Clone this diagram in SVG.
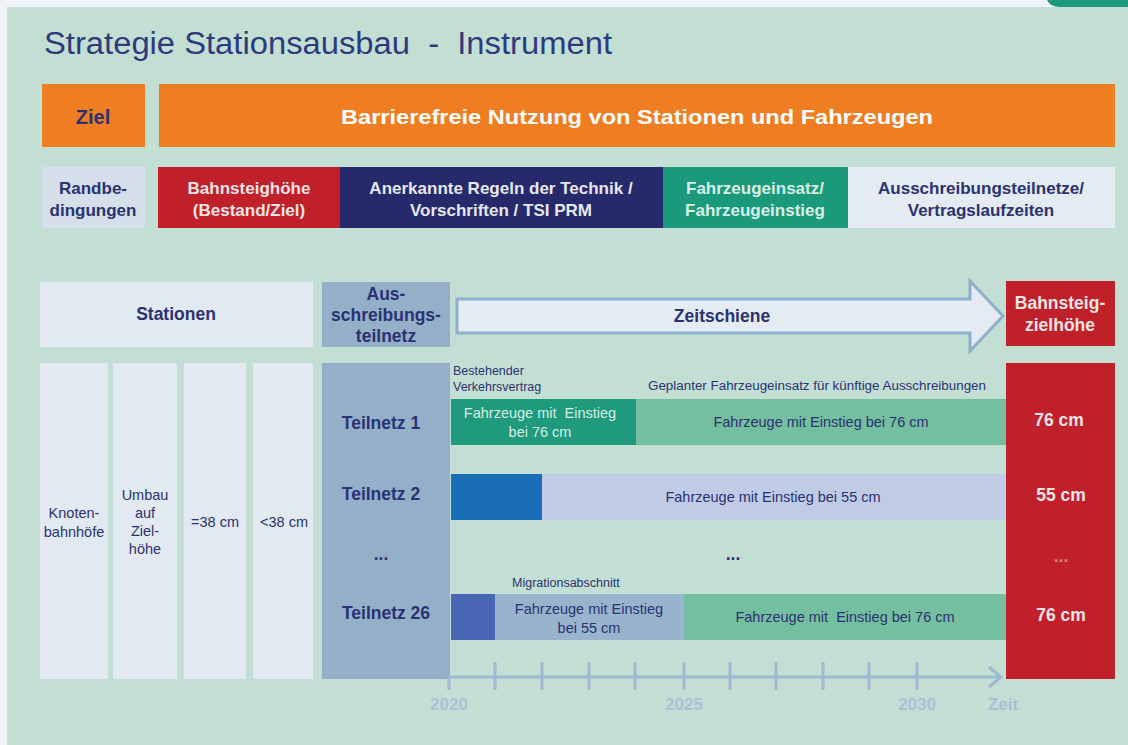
<svg xmlns="http://www.w3.org/2000/svg" width="1128" height="745" viewBox="0 0 1128 745">
<style>
text{font-family:"Liberation Sans",Arial,sans-serif;}
.b{font-weight:bold;}
.nv{fill:#2b3272;}
.lt{fill:#f2e4e4;}
.c{text-anchor:middle;}
.h1{font-size:20px;}
.h2{font-size:17px;}
.h3{font-size:17.5px;}
.sm{font-size:12.5px;}
.md{font-size:14.5px;}
.yr{font-size:17px;font-weight:bold;fill:#a9c1d7;text-anchor:middle;}
.tick{stroke:#9fb9d3;stroke-width:3;fill:none;}
</style>
<rect x="0" y="0" width="1128" height="745" fill="#eef3f6"/>
<rect x="7" y="7" width="1121" height="738" fill="#c3dfd3"/>
<path d="M1047,0 H1128 V7 H1060 Q1050,7 1047,0 Z" fill="#1a9a7a"/>

<g id="title">
<text x="44" y="54" font-size="31" fill="#2e3a7e" xml:space="preserve" textLength="568" lengthAdjust="spacingAndGlyphs">Strategie Stationsausbau  -  Instrument</text>
</g>

<g id="ziel">
<rect x="42" y="84" width="103" height="63" fill="#ef7d22"/>
<text x="93" y="124" class="b nv c h1">Ziel</text>
</g>
<g id="ziel-text">
<rect x="159" y="84" width="956" height="63" fill="#ef7d22"/>
<text x="637" y="124" class="b c h1" fill="#ffffff" textLength="592" lengthAdjust="spacingAndGlyphs">Barrierefreie Nutzung von Stationen und Fahrzeugen</text>
</g>

<g id="randbedingungen">
<rect x="42" y="167" width="103" height="61" fill="#d4dfe9"/>
<text x="93" y="194" class="b nv c h2">Randbe-</text>
<text x="93" y="216" class="b nv c h2">dingungen</text>
</g>
<g id="bahnsteighoehe">
<rect x="158" y="167" width="182" height="61" fill="#c0202a"/>
<text x="249" y="194" class="b lt c h2">Bahnsteighöhe</text>
<text x="249" y="216" class="b lt c h2">(Bestand/Ziel)</text>
</g>
<g id="regeln">
<rect x="340" y="167" width="323" height="61" fill="#262a6b"/>
<text x="501" y="194" class="b c h2" fill="#e6e7f0">Anerkannte Regeln der Technik /</text>
<text x="501" y="216" class="b c h2" fill="#e6e7f0">Vorschriften / TSI PRM</text>
</g>
<g id="fahrzeugeinsatz">
<rect x="663" y="167" width="185" height="61" fill="#1a9a7a"/>
<text x="755" y="194" class="b c h2" fill="#d8efe6">Fahrzeugeinsatz/</text>
<text x="755" y="216" class="b c h2" fill="#d8efe6">Fahrzeugeinstieg</text>
</g>
<g id="ausschreibungsteilnetze">
<rect x="848" y="167" width="267" height="61" fill="#e4ebf3"/>
<text x="981" y="194" class="b nv c h2">Ausschreibungsteilnetze/</text>
<text x="981" y="216" class="b nv c h2">Vertragslaufzeiten</text>
</g>

<g id="stationen">
<rect x="40" y="282" width="273" height="65" fill="#e2e9f1"/>
<text x="176" y="320" class="b nv c h3">Stationen</text>
</g>
<g id="ausschreibungsteilnetz">
<rect x="322" y="282" width="128" height="65" fill="#93b0c8"/>
<text x="386" y="300" class="b nv c h3">Aus-</text>
<text x="386" y="321" class="b nv c h3">schreibungs-</text>
<text x="386" y="342" class="b nv c h3">teilnetz</text>
</g>
<g id="zeitschiene">
<path d="M457,299 H970 V281 L1003,316 L970,351 V333 H457 Z" fill="#e4ebf3" stroke="#8fb0cc" stroke-width="3" stroke-linejoin="miter"/>
<text x="722" y="322" class="b nv c h3">Zeitschiene</text>
</g>
<g id="bahnsteigzielhoehe">
<rect x="1006" y="281" width="109" height="65" fill="#c0202a"/>
<text x="1060" y="309" class="b lt c h3">Bahnsteig-</text>
<text x="1060" y="331" class="b lt c h3">zielhöhe</text>
</g>

<g id="knotenbahnhoefe">
<rect x="40" y="363" width="68" height="316" fill="#e2e9f1"/>
<text x="74" y="518" class="nv c md">Knoten-</text>
<text x="74" y="537" class="nv c md">bahnhöfe</text>
</g>
<g id="umbau">
<rect x="113" y="363" width="64" height="316" fill="#e2e9f1"/>
<text x="145" y="500" class="nv c md">Umbau</text>
<text x="145" y="518" class="nv c md">auf</text>
<text x="145" y="536" class="nv c md">Ziel-</text>
<text x="145" y="554" class="nv c md">höhe</text>
</g>
<g id="eq38">
<rect x="184" y="363" width="62" height="316" fill="#e2e9f1"/>
<text x="215" y="527" class="nv c md">=38 cm</text>
</g>
<g id="lt38">
<rect x="253" y="363" width="60" height="316" fill="#e2e9f1"/>
<text x="284" y="527" class="nv c md">&lt;38 cm</text>
</g>

<g id="teilnetze">
<rect x="322" y="363" width="128" height="316" fill="#93b0c8"/>
<text x="381" y="429" class="b nv c h3">Teilnetz 1</text>
<text x="381" y="500" class="b nv c h3">Teilnetz 2</text>
<text x="381" y="560" class="b nv c h3">...</text>
<text x="386" y="619" class="b nv c h3">Teilnetz 26</text>
</g>

<g id="zielhoehen">
<rect x="1006" y="363" width="109" height="316" fill="#c0202a"/>
<text x="1059" y="426" class="b lt c h3">76 cm</text>
<text x="1061" y="501" class="b lt c h3">55 cm</text>
<text x="1061" y="562" class="b c h3" fill="#d98080">...</text>
<text x="1061" y="621" class="b lt c h3">76 cm</text>
</g>

<g id="labels">
<text x="453" y="375" class="nv sm">Bestehender</text>
<text x="453" y="391" class="nv sm">Verkehrsvertrag</text>
<text x="648" y="390" class="nv sm" textLength="338" lengthAdjust="spacingAndGlyphs">Geplanter Fahrzeugeinsatz für künftige Ausschreibungen</text>
<text x="733" y="560" class="b nv c h3">...</text>
<text x="512" y="587" class="nv sm">Migrationsabschnitt</text>
</g>

<g id="teilnetz1-bar">
<rect x="451" y="399" width="185" height="46" fill="#1f9a7c"/>
<text x="540" y="418" class="c md" fill="#d8efe6" xml:space="preserve">Fahrzeuge mit  Einstieg</text>
<text x="540" y="437" class="c md" fill="#d8efe6">bei 76 cm</text>
<rect x="636" y="399" width="370" height="46" fill="#74bf9f"/>
<text x="821" y="427" class="nv c md">Fahrzeuge mit Einstieg bei 76 cm</text>
</g>

<g id="teilnetz2-bar">
<rect x="451" y="474" width="91" height="46" fill="#1a6eb8"/>
<rect x="542" y="474" width="464" height="46" fill="#c0cbe6"/>
<text x="773" y="502" class="nv c md">Fahrzeuge mit Einstieg bei 55 cm</text>
</g>

<g id="teilnetz26-bar">
<rect x="451" y="594" width="44" height="46" fill="#4a67b5"/>
<rect x="495" y="594" width="189" height="46" fill="#98b4cc"/>
<text x="589" y="614" class="nv c md">Fahrzeuge mit Einstieg</text>
<text x="589" y="633" class="nv c md">bei 55 cm</text>
<rect x="684" y="594" width="322" height="46" fill="#74bf9f"/>
<text x="845" y="622" class="nv c md" xml:space="preserve">Fahrzeuge mit  Einstieg bei 76 cm</text>
</g>

<g id="connectors">
<line x1="449" y1="677" x2="1000" y2="677" class="tick"/>
<polyline points="989,667 1001,677 989,687" class="tick"/>
<line x1="449" y1="677" x2="449" y2="690" class="tick"/>
<line x1="495" y1="662" x2="495" y2="690" class="tick"/>
<line x1="542" y1="662" x2="542" y2="690" class="tick"/>
<line x1="589" y1="662" x2="589" y2="690" class="tick"/>
<line x1="635" y1="662" x2="635" y2="690" class="tick"/>
<line x1="684" y1="662" x2="684" y2="690" class="tick"/>
<line x1="730" y1="662" x2="730" y2="690" class="tick"/>
<line x1="776" y1="662" x2="776" y2="690" class="tick"/>
<line x1="823" y1="662" x2="823" y2="690" class="tick"/>
<line x1="869" y1="662" x2="869" y2="690" class="tick"/>
<line x1="917" y1="662" x2="917" y2="690" class="tick"/>
</g>

<g id="zeitachse-labels">
<text x="449" y="710" class="yr">2020</text>
<text x="684" y="710" class="yr">2025</text>
<text x="917" y="710" class="yr">2030</text>
<text x="1003" y="710" class="yr">Zeit</text>
</g>
</svg>
